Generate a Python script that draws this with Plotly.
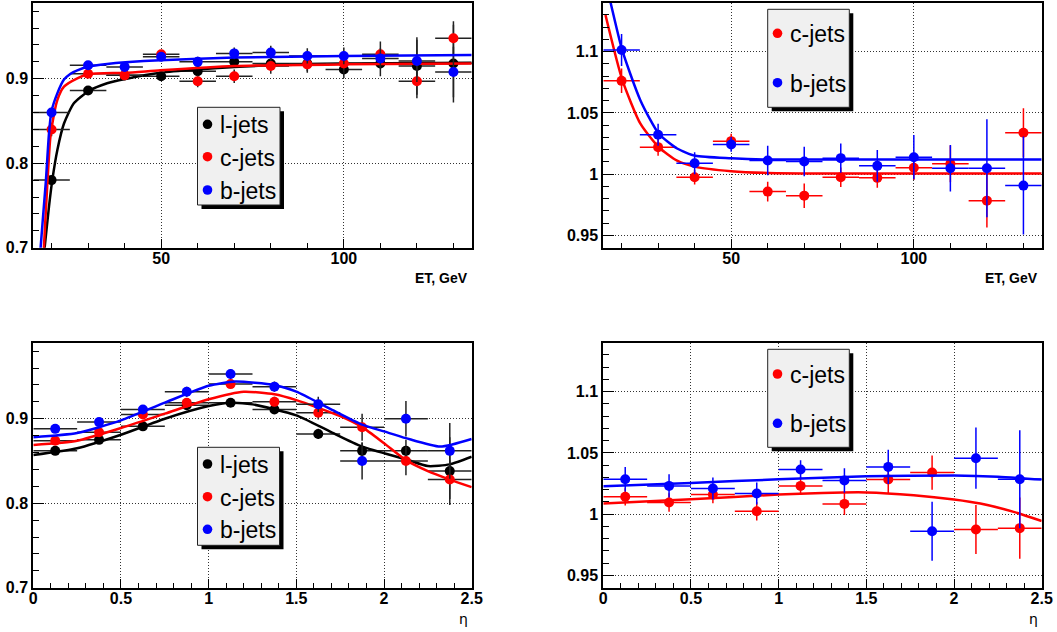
import plotly.graph_objects as go

W, H = 1057, 632

# ---------------- data ----------------
et = [20, 30, 40, 50, 60, 70, 80, 90, 100, 110, 120, 130]
et_half = 5
eta = [0.125, 0.375, 0.625, 0.875, 1.125, 1.375, 1.625, 1.875, 2.125, 2.375]
eta_half = 0.125

# top-left: efficiency vs ET
tl_l = [0.780, 0.886, 0.904, 0.903, 0.909, 0.920, 0.918, 0.918, 0.911, 0.918, 0.915, 0.918]
tl_l_err = [0.006, 0.005, 0.005, 0.005, 0.006, 0.007, 0.008, 0.009, 0.010, 0.015, 0.034, 0.046]
tl_c = [0.840, 0.906, 0.904, 0.929, 0.897, 0.903, 0.915, 0.917, 0.918, 0.929, 0.897, 0.948]
tl_c_err = [0.008, 0.005, 0.005, 0.005, 0.007, 0.008, 0.009, 0.010, 0.012, 0.015, 0.020, 0.020]
tl_b = [0.860, 0.916, 0.914, 0.926, 0.920, 0.930, 0.931, 0.927, 0.927, 0.924, 0.921, 0.908]
tl_b_err = [0.006, 0.004, 0.004, 0.005, 0.006, 0.007, 0.008, 0.009, 0.010, 0.012, 0.025, 0.030]

tl_fit_l_x = [17.6, 18.1, 19.3, 20.2, 21.6, 23.4, 26.1, 30.2, 35.2, 40.2, 49.8, 70, 100, 135]
tl_fit_l_y = [0.680, 0.700, 0.749, 0.780, 0.816, 0.847, 0.871, 0.8855, 0.8946, 0.8996, 0.907, 0.914, 0.918, 0.919]
tl_fit_c_x = [17.4, 17.9, 18.85, 19.6, 19.95, 21.6, 23.4, 27.05, 30.2, 40.2, 49.8, 70, 100, 135]
tl_fit_c_y = [0.660, 0.700, 0.7765, 0.8276, 0.840, 0.875, 0.8906, 0.9004, 0.9055, 0.907, 0.910, 0.915, 0.917, 0.918]
tl_fit_b_x = [16.6, 17.0, 18.4, 19.3, 19.95, 21.6, 23.4, 25.2, 27.05, 30.2, 35.2, 40.2, 49.8, 70, 100, 135]
tl_fit_b_y = [0.665, 0.700, 0.7765, 0.8355, 0.861, 0.883, 0.8990, 0.9060, 0.9100, 0.9145, 0.9175, 0.9195, 0.922, 0.925, 0.927, 0.928]

# top-right: ratio vs ET
tr_c = [1.0762, 1.0221, 0.9975, 1.0270, 0.9858, 0.9825, 0.9975, 0.9970, 1.0052, 1.0085, 0.9784, 1.0339]
tr_c_err = [0.010, 0.007, 0.006, 0.006, 0.008, 0.010, 0.008, 0.008, 0.010, 0.015, 0.022, 0.020]
tr_b = [1.1014, 1.0322, 1.0090, 1.0243, 1.0112, 1.0104, 1.0131, 1.0068, 1.0139, 1.0049, 1.0049, 0.9907]
tr_b_err = [0.013, 0.009, 0.009, 0.006, 0.012, 0.012, 0.012, 0.013, 0.018, 0.019, 0.040, 0.040]

tr_fit_c_x = [15.6, 20.2, 25.2, 30.2, 35.2, 40.2, 50, 60, 80, 100, 135]
tr_fit_c_y = [1.130, 1.077, 1.041, 1.022, 1.011, 1.006, 1.0025, 1.001, 1.0005, 1.0005, 1.0005]
tr_fit_b_x = [15.0, 17.0, 20.2, 25.2, 30.2, 35.2, 40.2, 50, 60, 80, 100, 135]
tr_fit_b_y = [1.165, 1.140, 1.101, 1.060, 1.033, 1.021, 1.015, 1.013, 1.012, 1.012, 1.012, 1.012]

# bottom-left: efficiency vs eta
bl_l = [0.862, 0.875, 0.891, 0.916, 0.919, 0.911, 0.882, 0.862, 0.862, 0.838]
bl_l_err = [0.004, 0.004, 0.004, 0.004, 0.004, 0.005, 0.006, 0.010, 0.013, 0.040]
bl_c = [0.874, 0.884, 0.905, 0.919, 0.941, 0.920, 0.907, 0.890, 0.850, 0.828]
bl_c_err = [0.004, 0.004, 0.005, 0.005, 0.005, 0.006, 0.008, 0.016, 0.017, 0.023]
bl_b = [0.888, 0.896, 0.911, 0.932, 0.953, 0.938, 0.917, 0.850, 0.900, 0.862]
bl_b_err = [0.004, 0.004, 0.005, 0.006, 0.006, 0.006, 0.009, 0.022, 0.021, 0.033]

bl_fit_l_x = [0, 0.25, 0.5, 0.75, 1.0, 1.125, 1.25, 1.5, 1.69, 1.875, 2.125, 2.25, 2.375, 2.5]
bl_fit_l_y = [0.857, 0.865, 0.881, 0.900, 0.915, 0.919, 0.917, 0.904, 0.885, 0.867, 0.852, 0.844, 0.846, 0.855]
bl_fit_c_x = [0, 0.25, 0.5, 0.75, 1.0, 1.2, 1.375, 1.5, 1.75, 1.875, 2.0, 2.125, 2.25, 2.375, 2.5]
bl_fit_c_y = [0.869, 0.874, 0.889, 0.906, 0.923, 0.932, 0.929, 0.922, 0.903, 0.890, 0.871, 0.851, 0.838, 0.828, 0.819]
bl_fit_b_x = [0, 0.25, 0.5, 0.75, 1.0, 1.15, 1.375, 1.5, 1.69, 1.875, 2.0, 2.125, 2.32, 2.5]
bl_fit_b_y = [0.878, 0.883, 0.898, 0.919, 0.939, 0.944, 0.940, 0.932, 0.912, 0.893, 0.885, 0.877, 0.867, 0.876]

# bottom-right: ratio vs eta
br_c = [1.0142, 1.0095, 1.0160, 1.0024, 1.0231, 1.0084, 1.0283, 1.0340, 0.9875, 0.9886]
br_c_err = [0.007, 0.0075, 0.007, 0.0075, 0.0075, 0.009, 0.011, 0.014, 0.020, 0.025]
br_b = [1.0286, 1.0231, 1.0210, 1.0169, 1.0365, 1.0275, 1.0386, 0.9861, 1.0457, 1.0286]
br_b_err = [0.010, 0.0095, 0.009, 0.009, 0.0075, 0.010, 0.014, 0.024, 0.025, 0.040]

br_fit_c_x = [0, 0.5, 1.0, 1.25, 1.5, 1.77, 2.0, 2.15, 2.34, 2.5]
br_fit_c_y = [1.0087, 1.0122, 1.016, 1.0174, 1.0178, 1.0155, 1.012, 1.0087, 1.0019, 0.9945]
br_fit_b_x = [0, 0.5, 1.0, 1.5, 2.0, 2.25, 2.5]
br_fit_b_y = [1.0229, 1.0255, 1.0285, 1.031, 1.0315, 1.0305, 1.0283]

# tick labels
eff_ticks = [0.7, 0.8, 0.9]
eff_ticktext = ["0.7", "0.8", "0.9"]
ratio_ticks = [0.95, 1.0, 1.05, 1.1]
ratio_ticktext = ["0.95", "1", "1.05", "1.1"]
et_ticks = [50, 100]
et_ticktext = ["50", "100"]
eta_ticks = [0, 0.5, 1.0, 1.5, 2.0, 2.5]
eta_ticktext = ["0", "0.5", "1", "1.5", "2", "2.5"]

BLACK = "#000000"
RED = "#ff0000"
BLUE = "#0000ff"
ERRBLACK = "#222222"

fig = go.Figure()


def add_points(x, y, err, xhalf, color, ecolor, xa, ya):
    fig.add_trace(go.Scatter(
        x=x, y=y, mode="markers", xaxis=xa, yaxis=ya,
        marker=dict(color=color, size=10, line=dict(width=0)),
        error_x=dict(type="constant", value=xhalf, width=0, thickness=1.5, color=ecolor),
        error_y=dict(type="data", array=err, width=0, thickness=1.5, color=ecolor),
        cliponaxis=True, hoverinfo="skip"))


def add_fit(x, y, color, xa, ya):
    fig.add_trace(go.Scatter(
        x=x, y=y, mode="lines", xaxis=xa, yaxis=ya,
        line=dict(color=color, width=2.5, shape="spline", smoothing=0.6),
        hoverinfo="skip"))


# top-left
add_points(et, tl_l, tl_l_err, et_half, BLACK, ERRBLACK, "x", "y")
add_fit(tl_fit_l_x, tl_fit_l_y, BLACK, "x", "y")
add_points(et, tl_c, tl_c_err, et_half, RED, ERRBLACK, "x", "y")
add_fit(tl_fit_c_x, tl_fit_c_y, RED, "x", "y")
add_points(et, tl_b, tl_b_err, et_half, BLUE, ERRBLACK, "x", "y")
add_fit(tl_fit_b_x, tl_fit_b_y, BLUE, "x", "y")

# top-right
add_points(et, tr_c, tr_c_err, et_half, RED, RED, "x2", "y2")
add_fit(tr_fit_c_x, tr_fit_c_y, RED, "x2", "y2")
add_points(et, tr_b, tr_b_err, et_half, BLUE, BLUE, "x2", "y2")
add_fit(tr_fit_b_x, tr_fit_b_y, BLUE, "x2", "y2")

# bottom-left
add_points(eta, bl_l, bl_l_err, eta_half, BLACK, ERRBLACK, "x3", "y3")
add_fit(bl_fit_l_x, bl_fit_l_y, BLACK, "x3", "y3")
add_points(eta, bl_c, bl_c_err, eta_half, RED, ERRBLACK, "x3", "y3")
add_fit(bl_fit_c_x, bl_fit_c_y, RED, "x3", "y3")
add_points(eta, bl_b, bl_b_err, eta_half, BLUE, ERRBLACK, "x3", "y3")
add_fit(bl_fit_b_x, bl_fit_b_y, BLUE, "x3", "y3")

# bottom-right
add_points(eta, br_c, br_c_err, eta_half, RED, RED, "x4", "y4")
add_fit(br_fit_c_x, br_fit_c_y, RED, "x4", "y4")
add_points(eta, br_b, br_b_err, eta_half, BLUE, BLUE, "x4", "y4")
add_fit(br_fit_b_x, br_fit_b_y, BLUE, "x4", "y4")

TICKFONT = dict(family="Liberation Sans", size=16, color="black", weight="bold")


def xaxis(domain, rng, tv, tt, minor_dtick, anchor):
    return dict(domain=domain, range=rng, anchor=anchor, automargin=False,
                tickmode="array", tickvals=tv, ticktext=tt, ticklabelstandoff=-5,
                ticks="inside", ticklen=9, tickwidth=1, tickcolor="black",
                minor=dict(tickmode="linear", tick0=0, dtick=minor_dtick, ticks="inside",
                           ticklen=5, tickwidth=1, tickcolor="black", showgrid=False),
                showline=True, linecolor="black", linewidth=2, mirror=True,
                showgrid=True, gridcolor="#333333", gridwidth=1, griddash="1px,2px",
                zeroline=False, tickfont=TICKFONT, fixedrange=True)


def yaxis(domain, rng, tv, tt, minor_dtick, minor_tick0, anchor):
    return dict(domain=domain, range=rng, anchor=anchor, automargin=False,
                tickmode="array", tickvals=tv, ticktext=tt,
                ticks="inside", ticklen=11, tickwidth=1, tickcolor="black",
                minor=dict(tickmode="linear", tick0=minor_tick0, dtick=minor_dtick, ticks="inside",
                           ticklen=6, tickwidth=1, tickcolor="black", showgrid=False),
                showline=True, linecolor="black", linewidth=2, mirror=True,
                showgrid=True, gridcolor="#333333", gridwidth=1, griddash="1px,2px",
                zeroline=False, tickfont=TICKFONT, fixedrange=True)


XL = [33.3 / W, 471.7 / W]
XR = [603.3 / W, 1041.7 / W]
YT = [1 - 247.7 / H, 1 - 2.7 / H]
YB = [1 - 587.7 / H, 1 - 342.7 / H]

fig.update_layout(
    width=W, height=H, margin=dict(l=0, r=0, t=0, b=0, autoexpand=False),
    paper_bgcolor="white", plot_bgcolor="white", showlegend=False,
    xaxis=xaxis(XL, [15, 135], et_ticks, et_ticktext, 10, "y"),
    yaxis=yaxis(YT, [0.7, 0.99], eff_ticks, eff_ticktext, 0.02, 0.7, "x"),
    xaxis2=xaxis(XR, [15, 135], et_ticks, et_ticktext, 10, "y2"),
    yaxis2=yaxis(YT, [0.94, 1.14], ratio_ticks, ratio_ticktext, 0.01, 0.95, "x2"),
    xaxis3=xaxis(XL, [0, 2.5], eta_ticks, eta_ticktext, 0.1, "y3"),
    yaxis3=yaxis(YB, [0.7, 0.99], eff_ticks, eff_ticktext, 0.02, 0.7, "x3"),
    xaxis4=xaxis(XR, [0, 2.5], eta_ticks, eta_ticktext, 0.1, "y4"),
    yaxis4=yaxis(YB, [0.94, 1.14], ratio_ticks, ratio_ticktext, 0.01, 0.95, "x4"),
)


def px(x):
    return x / W


def py(y):
    return 1 - y / H


shapes = []
annotations = []


def legend_box(x0, y0, x1, y1, entries):
    shapes.append(dict(type="rect", xref="paper", yref="paper",
                       x0=px(x0 + 4), x1=px(x1 + 4), y0=py(y1 + 4), y1=py(y0 + 4),
                       fillcolor="black", line=dict(width=0), layer="above"))
    shapes.append(dict(type="rect", xref="paper", yref="paper",
                       x0=px(x0), x1=px(x1), y0=py(y1), y1=py(y0),
                       fillcolor="#f0f0f0", line=dict(color="#222222", width=1), layer="above"))
    for (mx, my, color, label) in entries:
        r = 4.8
        shapes.append(dict(type="circle", xref="paper", yref="paper",
                           x0=px(mx - r), x1=px(mx + r), y0=py(my + r), y1=py(my - r),
                           fillcolor=color, line=dict(width=0), layer="above"))
        annotations.append(dict(xref="paper", yref="paper", x=px(mx + 10.5), y=py(my + 1),
                                xanchor="left", yanchor="middle", showarrow=False, text=label,
                                font=dict(family="Liberation Sans", size=23, color="black")))


legend_box(197.5, 107.3, 280, 205,
           [(207.5, 124.3, BLACK, "l-jets"), (207.5, 156.7, RED, "c-jets"), (207.5, 190, BLUE, "b-jets")])
legend_box(767.7, 9.3, 849.3, 107.3,
           [(777.5, 33.3, RED, "c-jets"), (777.5, 82.7, BLUE, "b-jets")])
legend_box(197.5, 447.3, 279.5, 545.3,
           [(207.5, 464, BLACK, "l-jets"), (207.5, 496.7, RED, "c-jets"), (207.5, 529.3, BLUE, "b-jets")])
legend_box(767.7, 349.3, 849.3, 447.3,
           [(777.5, 374, RED, "c-jets"), (777.5, 423.3, BLUE, "b-jets")])

AXFONT = dict(family="Liberation Sans", size=14, color="black", weight="bold")
annotations.append(dict(xref="paper", yref="paper", x=px(470), y=py(277.5), xanchor="right",
                        yanchor="middle", showarrow=False, text="ET, GeV", font=AXFONT))
annotations.append(dict(xref="paper", yref="paper", x=px(1040), y=py(277.5), xanchor="right",
                        yanchor="middle", showarrow=False, text="ET, GeV", font=AXFONT))
ETAFONT = dict(family="DejaVu Sans", size=14, color="black")
annotations.append(dict(xref="paper", yref="paper", x=px(470), y=py(619), xanchor="right",
                        yanchor="middle", showarrow=False, text="η", font=ETAFONT))
annotations.append(dict(xref="paper", yref="paper", x=px(1040), y=py(619), xanchor="right",
                        yanchor="middle", showarrow=False, text="η", font=ETAFONT))

fig.update_layout(shapes=shapes, annotations=annotations)

fig.write_html("out.html", config={"displayModeBar": False, "staticPlot": True},
               post_script="document.body.style.margin='0px';document.body.style.overflow='hidden';")
